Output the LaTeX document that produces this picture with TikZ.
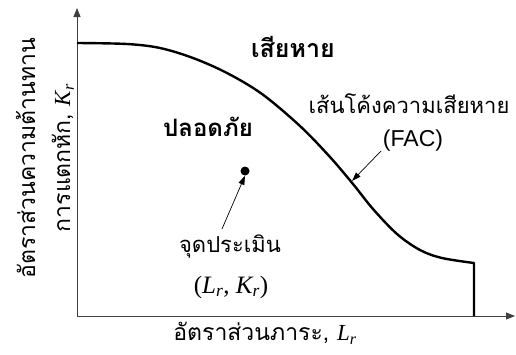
\documentclass[tikz,border=0pt]{standalone}
\usepackage{fontspec}
\usetikzlibrary{arrows.meta}
\newfontfamily\thai[Script=Thai]{Loma}
\newfontfamily\serif{Liberation Serif}
\newfontfamily\lsans{Liberation Sans}
\newcommand\myL{{\serif\itshape L\textsubscript{r}}}
\newcommand\myK{{\serif\itshape K\textsubscript{r}}}
\newcommand\fs[1]{\fontsize{#1}{#1}\selectfont}
\begin{document}
\begin{tikzpicture}[x=1pt,y=-1pt,
  axis/.style={draw=black!75, line width=0.8pt, -{Triangle[length=9pt,width=7pt]}},
  curve/.style={line width=2.4pt, line join=round},
  pointer/.style={line width=0.7pt, -{Triangle[length=9pt,width=6pt]}},
  lbl/.style={font=\thai, inner sep=1pt},
  blbl/.style={font=\thai\bfseries, inner sep=1pt}]
\useasboundingbox (0,0) rectangle (516,354);
\coordinate (o) at (77,316);
\coordinate (ytop) at (77,8);
\coordinate (xend) at (515,316);
\draw[axis] (o) -- (ytop);
\draw[axis] (o) -- (xend);
\coordinate (cfoot) at (474,316);
\draw[curve] plot[smooth, tension=0.55] coordinates {(77,43) (127,44) (160,48) (193,58) (227,73) (262,94) (300,126) (330,157) (353,184) (373,209) (397,234) (420,250) (442,258) (474,263)} -- (cfoot);
\node[blbl, font=\thai\bfseries\fs{25}] (fail) at (293,47) {เสียหาย};
\node[blbl, font=\thai\bfseries\fs{24}] (safe) at (208,127) {ปลอดภัย};
\node[lbl, font=\thai\fs{22}] (fac) at (409,104) {เส้นโค้งความเสียหาย};
\node[font=\lsans\fs{23}, inner sep=1pt] (facab) at (413,141) {(FAC)};
\coordinate (facpt) at (352,181);
\coordinate (fst) at (381,151);
\draw[pointer] (fst) -- (facpt);
\node[circle, fill=black, inner sep=0pt, minimum size=9pt] (dot) at (245,171) {};
\node[lbl, font=\thai\fs{22}] (ass) at (230,247) {จุดประเมิน};
\node[font=\serif\fs{25}, inner sep=1pt] (lk) at (231,287) {(\myL, \myK)};
\coordinate (ast) at (222,229);
\draw[pointer] (ast) -- (dot.south);
\node[lbl, font=\thai\fs{23}] (xl) at (265,333) {อัตราส่วนภาระ, \myL};
\node[lbl, font=\thai\fontsize{23}{35}\selectfont, rotate=90, align=center] (yl) at (45,158) {อัตราส่วนความต้านทาน\\ การแตกหัก, \myK};
\end{tikzpicture}
\end{document}
